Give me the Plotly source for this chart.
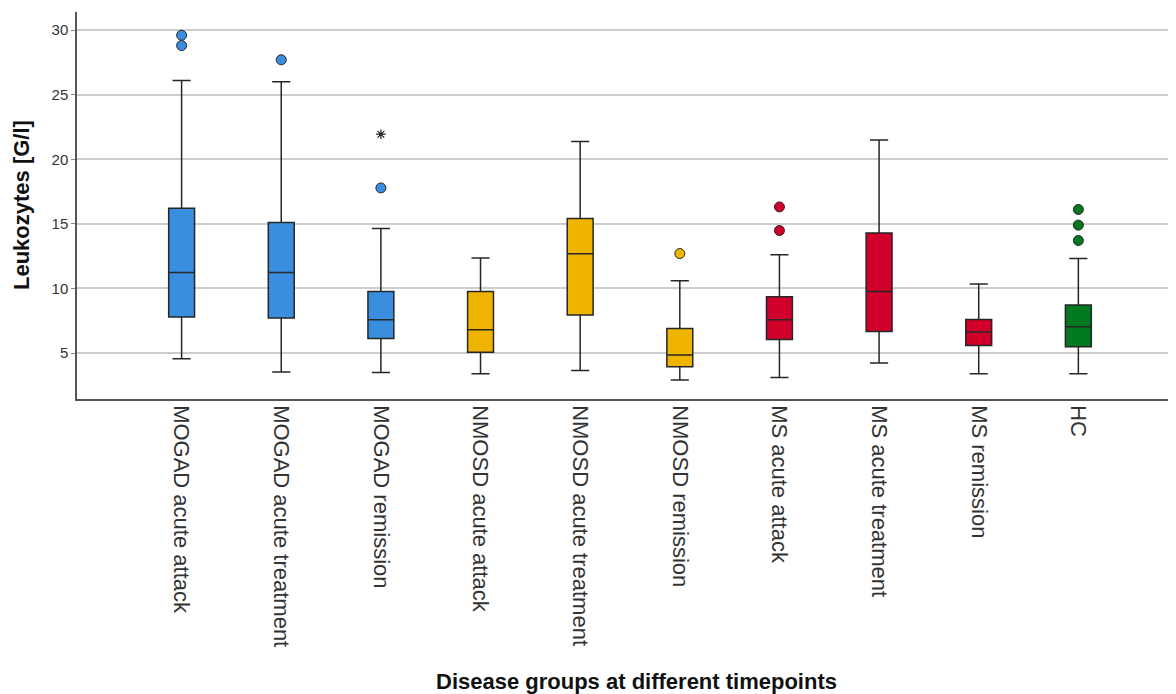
import plotly.graph_objects as go

categories = ["MOGAD acute attack", "MOGAD acute treatment", "MOGAD remission",
              "NMOSD acute attack", "NMOSD acute treatment", "NMOSD remission",
              "MS acute attack", "MS acute treatment", "MS remission", "HC"]
lower_whisker = [4.56, 3.53, 3.50, 3.40, 3.65, 2.91, 3.11, 4.23, 3.40, 3.40]
q1 = [7.78, 7.71, 6.13, 5.05, 7.94, 3.94, 6.05, 6.67, 5.59, 5.49]
median = [11.23, 11.23, 7.58, 6.80, 12.68, 4.85, 7.58, 9.76, 6.62, 7.03]
q3 = [16.2, 15.1, 9.76, 9.76, 15.41, 6.90, 9.35, 14.30, 7.60, 8.71]
upper_whisker = [26.1, 26.0, 14.64, 12.35, 21.37, 10.59, 12.60, 21.50, 10.34, 12.32]
outliers = [[29.6, 28.8], [27.7], [17.78], [], [], [12.70], [16.31, 14.48], [], [], [16.11, 14.90, 13.71]]
extremes = [[], [], [21.94], [], [], [], [], [], [], []]
group_colors = ["#3a8ee0", "#3a8ee0", "#3a8ee0", "#eeb400", "#eeb400", "#eeb400",
                "#d0002b", "#d0002b", "#d0002b", "#00791f"]

FONT = "Liberation Sans, Arial, sans-serif"
fig = go.Figure()
for i, cat in enumerate(categories):
    fig.add_trace(go.Box(
        x=[i], q1=[q1[i]], median=[median[i]], q3=[q3[i]],
        lowerfence=[lower_whisker[i]], upperfence=[upper_whisker[i]],
        fillcolor=group_colors[i], line=dict(color="#262626", width=1.5),
        width=0.26, whiskerwidth=0.7, boxpoints=False, name=cat, showlegend=False,
        hoverinfo="skip",
    ))
    if outliers[i]:
        fig.add_trace(go.Scatter(
            x=[i] * len(outliers[i]), y=outliers[i], mode="markers",
            marker=dict(color=group_colors[i], size=10, line=dict(color="#262626", width=1)),
            showlegend=False, hoverinfo="skip",
        ))
    if extremes[i]:
        fig.add_trace(go.Scatter(
            x=[i] * len(extremes[i]), y=extremes[i], mode="markers",
            marker=dict(symbol="asterisk-open", color="#222222", size=8, line=dict(color="#222222", width=1.2)),
            showlegend=False, hoverinfo="skip",
        ))

# Page body has an 8px margin, so figure coordinates are screen coordinates minus 8.
fig.update_layout(
    width=1176, height=694,
    margin=dict(l=69, r=8, t=4, b=303),
    paper_bgcolor="white", plot_bgcolor="white",
    font=dict(family=FONT, color="#222222"),
    xaxis=dict(
        range=[-1.05, 9.98], tickmode="array", tickvals=list(range(len(categories))),
        ticktext=categories, tickangle=90, tickfont=dict(size=22, color="#333333"),
        showgrid=False, zeroline=False, showline=True, linecolor="#555555", linewidth=1.5,
        ticks="", automargin=False,
    ),
    yaxis=dict(
        range=[1.44, 31.4], tickvals=[5, 10, 15, 20, 25, 30],
        tickfont=dict(size=15, color="#333333"),
        showgrid=True, gridcolor="#cccccc", gridwidth=1.5, zeroline=False,
        showline=True, linecolor="#555555", linewidth=1.5,
        ticks="outside", ticklen=4, tickcolor="#888888", automargin=False,
    ),
    annotations=[
        dict(text="<b>Disease groups at different timepoints</b>", xref="paper", yref="paper",
             x=(636 - 77) / (1176 - 77), y=-(696 - 399) / (399 - 12), xanchor="center", yanchor="bottom",
             showarrow=False, font=dict(size=22, color="#111111")),
        dict(text="<b>Leukozytes [G/l]</b>", xref="paper", yref="paper",
             x=-(77 - 22) / (1176 - 77), y=(399 - 205) / (399 - 12), xanchor="center", yanchor="middle",
             textangle=-90, showarrow=False, font=dict(size=22, color="#111111")),
    ],
)
fig.write_html("out.html")
